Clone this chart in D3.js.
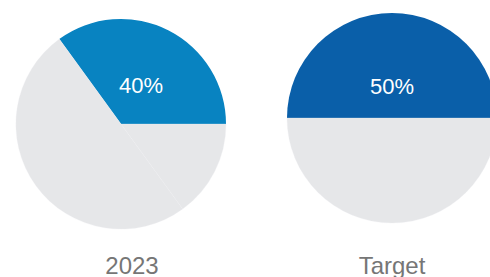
<!DOCTYPE html>
<html lang="en">
<head>
  <meta charset="UTF-8" />
  <title>2023 vs Target</title>
  <script src="https://d3js.org/d3.v7.min.js"></script>
  <style>
    body {
      margin: 0;
      background: #fff;
      font-family: "Liberation Sans", Arial, sans-serif;
    }
    svg { display: block; }
    .pct {
      fill: #fff;
      font-size: 22px;
      text-anchor: middle;
    }
    .cat {
      fill: #767676;
      font-size: 24px;
      text-anchor: middle;
    }
  </style>
</head>
<body>
  <div id="chart"></div>
  <script>
    // data
    const categories = ["2023", "Target"];
    const pctLabels  = ["40%", "50%"];
    const shares2023   = [35, 50, 15];
    const sharesTarget = [50, 50];
    const pieColors = ["#0883c1", "#0a5fa9"];

    const width = 490, height = 277;
    const radius = 105;

    const svg = d3.select("#chart")
      .append("svg")
        .attr("width", width)
        .attr("height", height);

    const pies = [
      { cat: categories[0], label: pctLabels[0], values: shares2023,   color: pieColors[0], cx: 121, cy: 124, labelR: 44, catX: 132 },
      { cat: categories[1], label: pctLabels[1], values: sharesTarget, color: pieColors[1], cx: 392, cy: 118, labelR: 32, catX: 392 }
    ];

    // start at 3 o'clock and go counter-clockwise
    const pie = d3.pie()
      .sort(null)
      .startAngle(Math.PI / 2)
      .endAngle(Math.PI / 2 - 2 * Math.PI);

    const arc = d3.arc().innerRadius(0).outerRadius(radius);

    pies.forEach(p => {
      const g = svg.append("g")
        .attr("transform", `translate(${p.cx},${p.cy})`);

      const arcs = pie(p.values);

      g.selectAll("path")
        .data(arcs)
        .enter()
        .append("path")
          .attr("d", arc)
          .attr("fill", (d, i) => i === 0 ? p.color : "#e6e7e9")
          .attr("stroke", (d, i) => i === 0 ? "none" : "#eeeff0")
          .attr("stroke-width", 0.3);

      const labelArc = d3.arc().innerRadius(p.labelR).outerRadius(p.labelR);
      const c = labelArc.centroid(arcs[0]);

      g.append("text")
        .attr("class", "pct")
        .attr("x", c[0])
        .attr("y", c[1])
        .attr("dy", "0.35em")
        .text(p.label);

      svg.append("text")
        .attr("class", "cat")
        .attr("x", p.catX)
        .attr("y", 274)
        .text(p.cat);
    });
  </script>
</body>
</html>
